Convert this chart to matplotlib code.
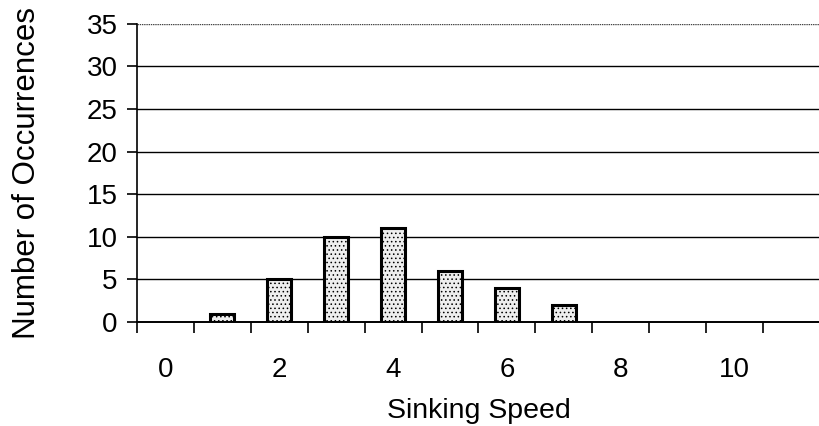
import numpy as np
import matplotlib
matplotlib.use('Agg')
import matplotlib.pyplot as plt

# sinking speed classes and how often each one was seen
speeds = [0, 1, 2, 3, 4, 5, 6, 7, 8, 9, 10, 11]
counts = [0, 1, 5, 10, 11, 6, 4, 2, 0, 0, 0, 0]
speed_labels = ['0', '2', '4', '6', '8', '10']
y_ticks = [0, 5, 10, 15, 20, 25, 30, 35]

plt.rcParams['font.family'] = ['Liberation Sans', 'DejaVu Sans']
plt.rcParams['hatch.color'] = '#9a9a9a'
plt.rcParams['hatch.linewidth'] = 0.6

fig = plt.figure(figsize=(8.2, 4.26), dpi=100)
ax = fig.add_axes([0.167, 0.244, 0.833, 0.700])

xs = [s for s, c in zip(speeds, counts) if c > 0]
hs = [c for c in counts if c > 0]
ax.bar(xs, hs, width=0.42, color='#eeeeee', edgecolor='black',
       linewidth=2.2, hatch='....', zorder=3)

ax.set_ylim(0, 35)
ax.set_xlim(-0.5, 11.28)
ax.set_yticks(y_ticks)
ax.set_yticklabels([str(v) for v in y_ticks], fontsize=20)
for v in y_ticks[1:-1]:
    ax.axhline(v, color='black', linewidth=1.0, zorder=1)
ax.axhline(y_ticks[-1], color='#444444', linewidth=1.0,
           linestyle=(0, (1, 0.6)), zorder=1)

# tick marks between the classes, labels on every other class
ax.set_xticks(np.arange(-0.5, 12, 1.0))
ax.set_xticklabels([])
ax.set_xticks(speeds[::2], minor=True)
ax.set_xticklabels(speed_labels, minor=True, fontsize=20)
ax.tick_params(axis='x', which='major', length=8, width=1.2, direction='out')
ax.tick_params(axis='x', which='minor', length=0, pad=25)
ax.tick_params(axis='y', length=7, width=1.2, pad=7)

for side in ['top', 'right']:
    ax.spines[side].set_visible(False)
ax.spines['left'].set_linewidth(1.2)
ax.spines['bottom'].set_linewidth(1.4)

ax.set_xlabel('Sinking Speed', fontsize=20.5, labelpad=11)
ax.set_ylabel('Number of Occurrences', fontsize=22.5, labelpad=32)

fig.savefig('out.png', dpi=100)
